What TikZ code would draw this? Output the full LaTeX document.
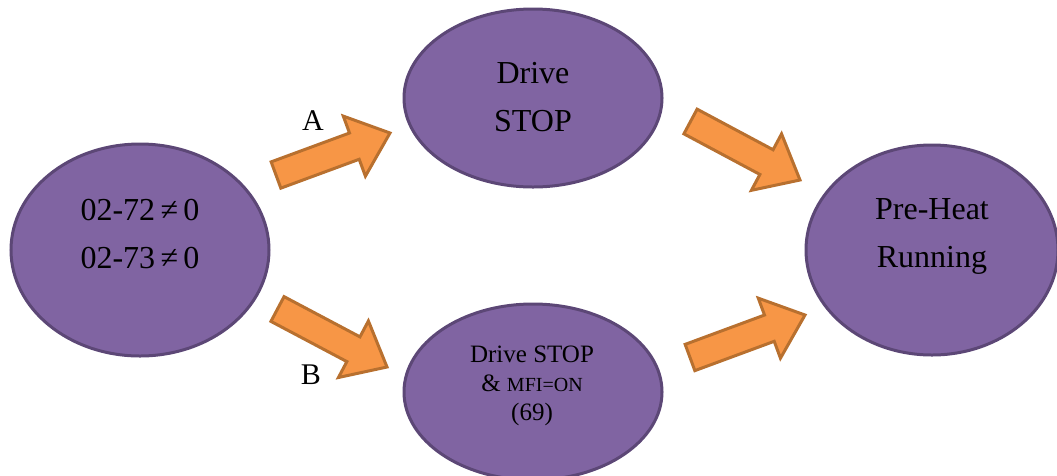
\documentclass[tikz,border=0pt]{standalone}
\usepackage{fontspec}
\setmainfont{Liberation Serif}
\usetikzlibrary{calc,shapes.geometric}
\definecolor{purfill}{HTML}{8064A2}
\definecolor{purline}{HTML}{5C4776}
\definecolor{orfill}{HTML}{F79646}
\definecolor{orline}{HTML}{B8702F}
\tikzset{
  ell/.style={ellipse, draw=purline, fill=purfill, line width=3pt, inner sep=0pt},
  bigtxt/.style={align=center, font=\fontsize{32}{48}\selectfont, text=black},
  smalltxt/.style={align=center, font=\fontsize{25}{29}\selectfont, text=black},
  lbl/.style={font=\fontsize{30}{36}\selectfont, text=black},
  barrow/.style={draw=orline, fill=orfill, line width=3pt, line join=miter}
}
\newcommand{\myblockarrow}[3]{%
  \coordinate (#3n) at ($(#2)!38pt!(#1)$);
  \coordinate (#3a) at ($(#1)!14pt!90:(#2)$);
  \coordinate (#3b) at ($(#3n)!14pt!90:(#2)$);
  \coordinate (#3c) at ($(#3n)!32pt!90:(#2)$);
  \coordinate (#3d) at ($(#3n)!32pt!-90:(#2)$);
  \coordinate (#3e) at ($(#3n)!14pt!-90:(#2)$);
  \coordinate (#3f) at ($(#1)!14pt!-90:(#2)$);
  \draw[barrow] (#3a) -- (#3b) -- (#3c) -- (#2) -- (#3d) -- (#3e) -- (#3f) -- cycle;
}
\begin{document}
\begin{tikzpicture}[x=1pt,y=-1pt]
\useasboundingbox (0,0) rectangle (1057,475);
\clip (0,0) rectangle (1057,475);
% ellipses
\node[ell, minimum width=258pt, minimum height=212pt] (L) at (140,250) {};
\node[ell, minimum width=258pt, minimum height=178pt] (T) at (533,98) {};
\node[ell, minimum width=258pt, minimum height=176pt] (B) at (533,392) {};
\node[ell, minimum width=252pt, minimum height=210pt] (R) at (932,250) {};
% texts
\node[bigtxt] (Ltxt) at (140,234) {02-72\,≠\,0\\02-73\,≠\,0};
\node[bigtxt] (Ttxt) at (533,97) {Drive\\STOP};
\node[bigtxt] (Rtxt) at (932,236) {Pre-Heat\\Running};
\node[smalltxt] (Btxt) at (532,386) {Drive STOP\\\& {\fontsize{20}{29}\selectfont MFI=ON}\\(69)};
% labels
\node[lbl] (la) at (313,121) {A};
\node[lbl] (lb) at (311,375) {B};
% block arrows
\coordinate (A1) at (276,175);
\coordinate (A2) at (390,133);
\myblockarrow{A1}{A2}{pa}
\coordinate (B1) at (277.5,309);
\coordinate (B2) at (387,367);
\myblockarrow{B1}{B2}{pb}
\coordinate (C1) at (690.5,121.5);
\coordinate (C2) at (800,180);
\myblockarrow{C1}{C2}{pc}
\coordinate (D1) at (690,357.5);
\coordinate (D2) at (805,315);
\myblockarrow{D1}{D2}{pd}
\end{tikzpicture}
\end{document}
